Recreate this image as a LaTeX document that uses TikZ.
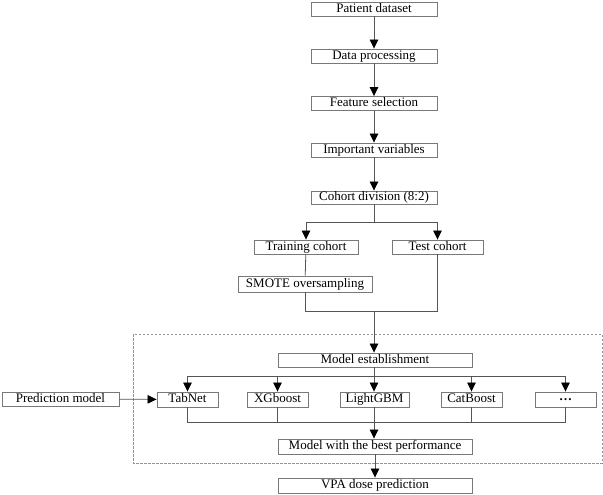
\documentclass[tikz,border=0pt]{standalone}
\usepackage{fontspec}
\setmainfont{Liberation Serif}
\usetikzlibrary{arrows.meta}
\definecolor{boxline}{RGB}{120,120,120}
\definecolor{conn}{RGB}{85,85,85}
\tikzset{
  box/.style={draw=boxline, line width=0.9pt, rectangle, inner sep=0pt, text height=9pt, text depth=2.8pt, font=\fontsize{13}{14}\selectfont, fill=white},
  conline/.style={draw=conn, line width=0.8pt},
  arr/.style={conline, -{Triangle[length=9pt, width=8.5pt, color=black]}},
  dashbox/.style={draw=boxline!80, line width=0.8pt, dash pattern=on 2.5pt off 1.5pt}
}
\begin{document}
\begin{tikzpicture}[x=1pt, y=-1pt]
\useasboundingbox[fill=white] (0,0) rectangle (603,495);
\draw[dashbox] (133,334) rectangle (602,463);
% top chain
\node[box, minimum width=126pt, minimum height=14pt] (pd) at (374,9) {Patient dataset};
\node[box, minimum width=126pt, minimum height=14pt] (dp) at (374,56) {Data processing};
\node[box, minimum width=126pt, minimum height=14pt] (fs) at (374,103.5) {Feature selection};
\node[box, minimum width=126pt, minimum height=14pt] (iv) at (374,150) {Important variables};
\node[box, minimum width=126pt, minimum height=13pt] (cd) at (374,197.5) {Cohort division (8:2)};
\node[box, minimum width=104pt, minimum height=14pt] (tc) at (306,247) {Training cohort};
\node[box, minimum width=91pt, minimum height=14pt] (te) at (437.5,247) {Test cohort};
\node[box, minimum width=134pt, minimum height=16pt] (sm) at (305,284) {SMOTE oversampling};
\node[box, minimum width=194pt, minimum height=14pt] (me) at (375,360) {Model establishment};
\node[box, minimum width=61pt, minimum height=15pt] (tab) at (187.5,399.5) {TabNet};
\node[box, minimum width=61pt, minimum height=15pt] (xgb) at (277.5,399.5) {XGboost};
\node[box, minimum width=69pt, minimum height=15pt] (lgb) at (374.5,399.5) {LightGBM};
\node[box, minimum width=61pt, minimum height=15pt] (cat) at (471.5,399.5) {CatBoost};
\node[box, minimum width=61pt, minimum height=15pt] (dots) at (565.5,399.5) {\raisebox{2.5pt}{\bfseries …}};
\node[box, minimum width=194pt, minimum height=15pt] (best) at (375,446.5) {Model with the best performance};
\node[box, minimum width=194pt, minimum height=15pt] (vpa) at (375,485.5) {VPA dose prediction};
\node[box, minimum width=117pt, minimum height=14pt] (pm) at (60.5,399) {Prediction model};
% junctions
\coordinate (j1) at (374,222);
\coordinate (j2) at (374,311);
\coordinate (j3) at (374,376);
\coordinate (j4) at (374,422);
% connectors
\draw[arr] (pd) -- (dp);
\draw[arr] (dp) -- (fs);
\draw[arr] (fs) -- (iv);
\draw[arr] (iv) -- (cd);
\draw[conline] (cd.south) -- (j1);
\draw[arr] (j1) -| (tc.north);
\draw[arr] (j1) -| (te.north);
\draw[conline] (tc) -- (sm);
\draw[conline] (sm.south) |- (j2);
\draw[conline] (te.south) |- (j2);
\draw[arr] (j2) -- (j2 |- me.north);
\draw[conline] (j3 |- me.south) -- (j3);
\draw[arr] (j3) -| (tab.north);
\draw[arr] (j3) -| (xgb.north);
\draw[arr] (j3) -- (j3 |- lgb.north);
\draw[arr] (j3) -| (cat.north);
\draw[arr] (j3) -| (dots.north);
\draw[conline] (tab.south) |- (j4);
\draw[conline] (xgb.south) |- (j4);
\draw[conline] (cat.south) |- (j4);
\draw[conline] (dots.south) |- (j4);
\draw[arr] (j4 |- lgb.south) -- (j4 |- best.north);
\draw[arr] (best) -- (vpa);
\draw[arr] (pm) -- (tab);
\end{tikzpicture}
\end{document}
